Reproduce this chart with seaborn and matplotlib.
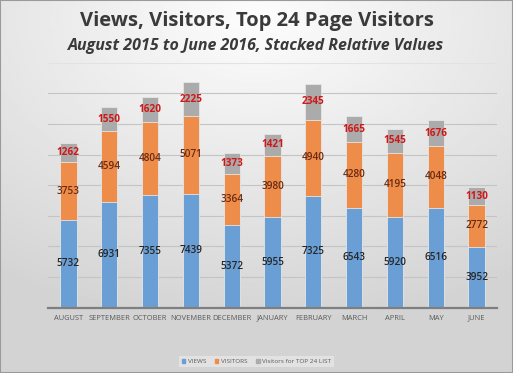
import numpy as np
import pandas as pd
import matplotlib.pyplot as plt
import matplotlib.patches as mpatches
import seaborn as sns

# data
months = ['AUGUST', 'SEPTEMBER', 'OCTOBER', 'NOVEMBER', 'DECEMBER', 'JANUARY',
          'FEBRUARY', 'MARCH', 'APRIL', 'MAY', 'JUNE']
views = [5732, 6931, 7355, 7439, 5372, 5955, 7325, 6543, 5920, 6516, 3952]
visitors = [3753, 4594, 4804, 5071, 3364, 3980, 4940, 4280, 4195, 4048, 2772]
top24 = [1262, 1550, 1620, 2225, 1373, 1421, 2345, 1665, 1545, 1676, 1130]

df = pd.DataFrame({'month': months, 'views': views, 'visitors': visitors, 'top24': top24})
df['lvl1'] = df['views']
df['lvl2'] = df['views'] + df['visitors']
df['lvl3'] = df['lvl2'] + df['top24']

c_views = '#6a9fd6'
c_visitors = '#ee8c4a'
c_top = '#ababab'

sns.set_theme(style='white')
plt.rcParams['font.family'] = ['Open Sans', 'DejaVu Sans']

fig = plt.figure(figsize=(5.13, 3.73), dpi=100)

# background gradient
bg = fig.add_axes([0, 0, 1, 1], zorder=-10)
yy, xx = np.mgrid[0:1:200j, 0:1:200j]
r = np.sqrt(((xx - 0.5) * 1.0) ** 2 + ((yy - 0.05) * 1.1) ** 2)
shade = 0.99 - 0.16 * np.clip(r / 0.9, 0, 1)
bg.imshow(shade, cmap='gray', vmin=0, vmax=1, extent=[0, 1, 0, 1], origin='upper', aspect='auto')
bg.add_patch(mpatches.Rectangle((0, 0), 1, 1, fill=False, edgecolor='#9a9a9a', lw=1.5,
                                transform=bg.transAxes))
bg.set_axis_off()

ax = fig.add_axes([48 / 513, 1 - 307.7 / 373, 449 / 513, 245 / 373])
ax.set_facecolor('none')

# stacked bars: draw cumulative totals from the tallest down
for col, c in [('lvl3', c_top), ('lvl2', c_visitors), ('lvl1', c_views)]:
    sns.barplot(data=df, x='month', y=col, color=c, saturation=1, width=0.4,
                edgecolor='#e6e6e6', linewidth=0.6, ax=ax, zorder=3)

ax.set_ylim(0, 16000)
ax.set_xlim(-0.5, len(months) - 0.5)
ax.set_yticks(np.arange(0, 14001, 2000))
ax.yaxis.grid(True, color='#c4c4c4', lw=0.8, zorder=0)
ax.axhline(16000, color='#e2e2e2', lw=0.8, zorder=0)  # faint top gridline
ax.set_yticklabels([])
ax.tick_params(axis='y', length=0)
ax.tick_params(axis='x', length=0, pad=5, labelsize=5.4, labelcolor='#595959')
ax.set_xlabel('')
ax.set_ylabel('')
for s in ['left', 'right', 'top']:
    ax.spines[s].set_visible(False)
ax.spines['bottom'].set_color('#7f7f7f')
ax.spines['bottom'].set_linewidth(1.6)
ax.spines['bottom'].set_zorder(4)

# centered value labels
for i, row in df.iterrows():
    ax.text(i, row['views'] / 2, f"{row['views']}", ha='center', va='center',
            fontsize=7.2, fontweight='semibold', color='#262626', zorder=5)
    ax.text(i, row['lvl1'] + row['visitors'] / 2, f"{row['visitors']}", ha='center', va='center',
            fontsize=7.2, fontweight='semibold', color='#6b2a10', zorder=5)
    ax.text(i, row['lvl2'] + row['top24'] / 2, f"{row['top24']}", ha='center', va='center',
            fontsize=7.2, fontweight='bold', color='#d01818', zorder=5)

fig.text(0.5, 1 - 21 / 373, 'Views, Visitors, Top 24 Page Visitors', ha='center', va='center',
         fontsize=14.5, fontweight='bold', color='#3a3a3a')
fig.text(0.5, 1 - 46 / 373, 'August 2015 to June 2016, Stacked Relative Values', ha='center',
         va='center', fontsize=11.5, fontweight='bold', style='italic', color='#3a3a3a')

handles = [mpatches.Patch(color=c_views, label='VIEWS'),
           mpatches.Patch(color=c_visitors, label='VISITORS'),
           mpatches.Patch(color=c_top, label='Visitors for TOP 24 LIST')]
leg = fig.legend(handles=handles, loc='center', bbox_to_anchor=(0.5, 1 - 361.5 / 373), ncol=3,
                 fontsize=4.6, frameon=True, handlelength=0.55, handleheight=0.55,
                 handletextpad=0.4, columnspacing=1.4, borderpad=0.45, fancybox=False)
leg.get_frame().set_facecolor('#e6e6e6')
leg.get_frame().set_edgecolor('none')
for t in leg.get_texts():
    t.set_color('#595959')

fig.savefig('out.png', dpi=100)
